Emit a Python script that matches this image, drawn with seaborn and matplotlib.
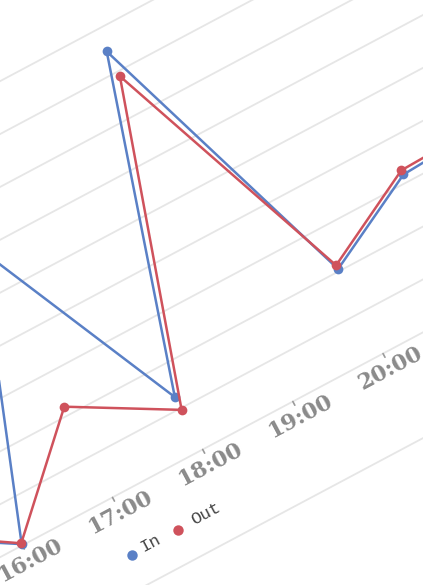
import numpy as np
import pandas as pd
import matplotlib
matplotlib.use("Agg")
import matplotlib.pyplot as plt
from matplotlib.transforms import Affine2D
import seaborn as sns

# Hourly traffic values
hours = [15, 16, 17, 18, 19, 20, 21, 22]
traffic_in = [13.5, 0.3, 60.0, 12.7, 84.9, 20.5, 31.8, 33.0]
traffic_out = [14.4, 0.5, 22.0, 9.6, 78.9, 21.4, 32.8, 33.5]
label_hours = [16, 17, 18, 19, 20]
tick_labels = ["16:00", "17:00", "18:00", "19:00", "20:00"]
series_names = ["In", "Out"]
grid_values = [-20, 0, 10, 20, 30, 40, 50, 60, 70, 80, 90]

palette = {"In": "#5a80c6", "Out": "#cf525c"}

df = pd.DataFrame({
    "hour": hours * 2,
    "value": traffic_in + traffic_out,
    "series": [series_names[0]] * len(hours) + [series_names[1]] * len(hours),
})

sns.set_theme(style="white")
fig = plt.figure(figsize=(4.23, 5.85), dpi=100)
ax = fig.add_axes([0, 0, 1, 1])

# The chart plane is tilted: hour/value coordinates are mapped onto the page
# through a scale + rotation.
ang = np.deg2rad(28.0)
c, s = np.cos(ang), np.sin(ang)
tilt = np.array([[c, -s, 0.0], [-s, -c, 0.0], [0.0, 0.0, 1.0]])
chart_tf = (Affine2D().scale(102.13, 4.67).translate(-1870.4, -492.0)
            + Affine2D(tilt))
tf = chart_tf + ax.transData

sns.lineplot(data=df, x="hour", y="value", hue="series", hue_order=series_names,
             palette=palette, marker="o", markersize=7, markeredgewidth=0,
             linewidth=1.8, legend=False, ax=ax, sort=True)
for ln in ax.lines:
    ln.set_transform(tf)
    ln.set_zorder(3)

# gridlines
for g in grid_values:
    ax.plot([8, 28], [g, g], transform=tf, color="#e6e6e6", lw=1.3, zorder=1)

# x ticks and labels
for h in hours:
    ax.plot([h, h], [0, -0.9], transform=tf, color="#9a9a9a", lw=1.2, zorder=2)
for h, lab in zip(label_hours, tick_labels):
    ax.text(h, -3.6, lab, transform=tf, rotation=28, rotation_mode="anchor",
            ha="center", va="center", family="DejaVu Serif", fontsize=16,
            fontweight="bold", color="#8a8a8a")

# legend
leg_x = [16.90, 17.42]
leg_tx = [17.12, 17.73]
for name, mx, tx in zip(series_names, leg_x, leg_tx):
    ax.plot([mx], [-12.8], "o", transform=tf, color=palette[name], ms=7.5,
            mew=0, zorder=3)
    ax.text(tx, -12.4, name, transform=tf, rotation=28, rotation_mode="anchor",
            ha="center", va="center", family="Liberation Mono", fontsize=12.5,
            color="#444444")

ax.set_xlim(0, 423)
ax.set_ylim(585, 0)
ax.axis("off")
fig.savefig("out.png", dpi=100, facecolor="white")
